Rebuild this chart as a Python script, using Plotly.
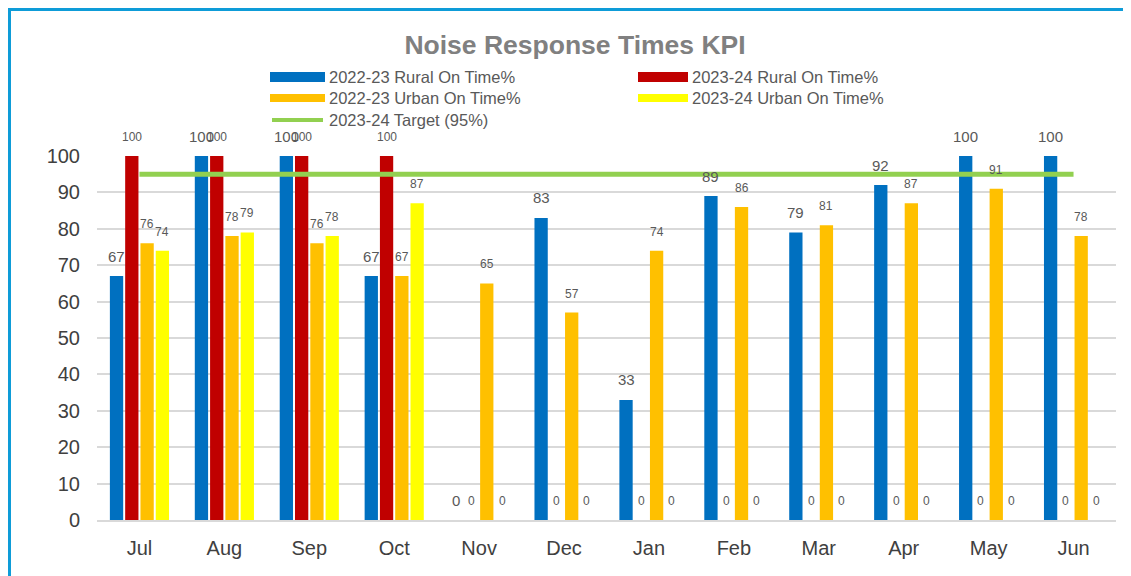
import plotly.graph_objects as go

months = ["Jul", "Aug", "Sep", "Oct", "Nov", "Dec", "Jan", "Feb", "Mar", "Apr", "May", "Jun"]
rural_2223 = [67, 100, 100, 67, 0, 83, 33, 89, 79, 92, 100, 100]
rural_2324 = [100, 100, 100, 100, 0, 0, 0, 0, 0, 0, 0, 0]
urban_2223 = [76, 78, 76, 67, 65, 57, 74, 86, 81, 87, 91, 78]
urban_2324 = [74, 79, 78, 87, 0, 0, 0, 0, 0, 0, 0, 0]
target_2324 = [95, 95, 95, 95, 95, 95, 95, 95, 95, 95, 95, 95]
y_ticks = [0, 10, 20, 30, 40, 50, 60, 70, 80, 90, 100]

names = ["2022-23 Rural On Time%", "2023-24 Rural On Time%",
         "2022-23 Urban On Time%", "2023-24 Urban On Time%",
         "2023-24 Target (95%)"]
colors = ["#0070C0", "#C00000", "#FFC000", "#FFFF00", "#92D050"]

# page body margin offsets the figure by 8px; compensate
OFF = 8
W, H = 1131 - OFF, 576 - OFF
L, R, T, B = 97 - OFF, 15, 156 - OFF, 56
PW, PH = W - L - R, H - T - B
BARGAP, GROUPGAP = 0.28, 0.13


def px(x):
    return (x - OFF - L) / PW


def py(y):
    return (H - B - (y - OFF)) / PH


FONT = "Liberation Sans, Arial, sans-serif"
LABEL = "#595959"

fig = go.Figure()
series = [rural_2223, rural_2324, urban_2223, urban_2324]
for i, vals in enumerate(series):
    fig.add_trace(go.Bar(
        x=months, y=vals, name=names[i],
        marker=dict(color=colors[i], line=dict(width=0)),
        showlegend=False,
    ))

fig.add_trace(go.Scatter(
    x=months, y=target_2324, mode="lines", name=names[4],
    line=dict(color=colors[4], width=5), showlegend=False,
))

shapes = []
annotations = []

# data labels placed above each bar (Excel-like gap)
cat_w = PW / len(months)
group_w = cat_w * (1 - BARGAP)
slot = group_w / len(series)
for i, vals in enumerate(series):
    dx = -group_w / 2 + slot * (i + 0.5)
    big = (i == 0)
    for m, v in zip(months, vals):
        annotations.append(dict(
            xref="x", yref="y", x=m, y=v, xshift=dx, yshift=20 if big else 19,
            xanchor="center", yanchor="middle", showarrow=False,
            text=f"{v:.0f}",
            font=dict(family=FONT, size=15 if big else 12, color=LABEL)))

# border (top and left)
shapes.append(dict(type="line", xref="paper", yref="paper",
                   x0=px(5), x1=px(1131), y0=py(9.5), y1=py(9.5),
                   line=dict(color="#0E9CD8", width=3)))
shapes.append(dict(type="line", xref="paper", yref="paper",
                   x0=px(OFF + 1.5), x1=px(OFF + 1.5), y0=py(8), y1=py(576),
                   line=dict(color="#0E9CD8", width=3)))

# manual legend
legend_items = [
    (0, 270, 325, 77, 10, "rect"),
    (1, 638, 688, 77, 10, "rect"),
    (2, 270, 325, 98, 8, "rect"),
    (3, 638, 688, 98, 8, "rect"),
    (4, 270, 325, 120, 4, "line"),
]
for idx, x0, x1, yc, th, kind in legend_items:
    if kind == "rect":
        shapes.append(dict(type="rect", xref="paper", yref="paper",
                           x0=px(x0), x1=px(x1), y0=py(yc - th / 2), y1=py(yc + th / 2),
                           fillcolor=colors[idx], line=dict(width=0)))
    else:
        shapes.append(dict(type="line", xref="paper", yref="paper",
                           x0=px(x0 + 2), x1=px(x1 - 2), y0=py(yc), y1=py(yc),
                           line=dict(color=colors[idx], width=th)))
    annotations.append(dict(xref="paper", yref="paper", x=px(x1 + 2), y=py(yc),
                            xanchor="left", yanchor="middle", showarrow=False,
                            text=names[idx],
                            font=dict(family=FONT, size=16.5, color=LABEL)))

fig.update_layout(
    width=W, height=H, autosize=False,
    margin=dict(l=L, r=R, t=T, b=B, pad=0),
    paper_bgcolor="white", plot_bgcolor="white",
    title=dict(text="<b>Noise Response Times KPI</b>", x=(575 - OFF) / W,
               y=1 - (45 - OFF) / H, xanchor="center", yanchor="middle",
               font=dict(family=FONT, size=26.5, color="#808080")),
    barmode="group", bargap=BARGAP, bargroupgap=GROUPGAP,
    showlegend=False,
    shapes=shapes, annotations=annotations,
    xaxis=dict(type="category", showgrid=False, showline=True, linecolor="#D9D9D9",
               linewidth=2, ticks="", ticklabelstandoff=9,
               tickfont=dict(family=FONT, size=20, color="#404040")),
    yaxis=dict(range=[0, 100], tickvals=y_ticks, showgrid=True, gridcolor="#D9D9D9",
               gridwidth=2, zeroline=False, showline=False, ticks="",
               ticklabelstandoff=16,
               tickfont=dict(family=FONT, size=20, color="#404040")),
)

fig.write_html("out.html")
